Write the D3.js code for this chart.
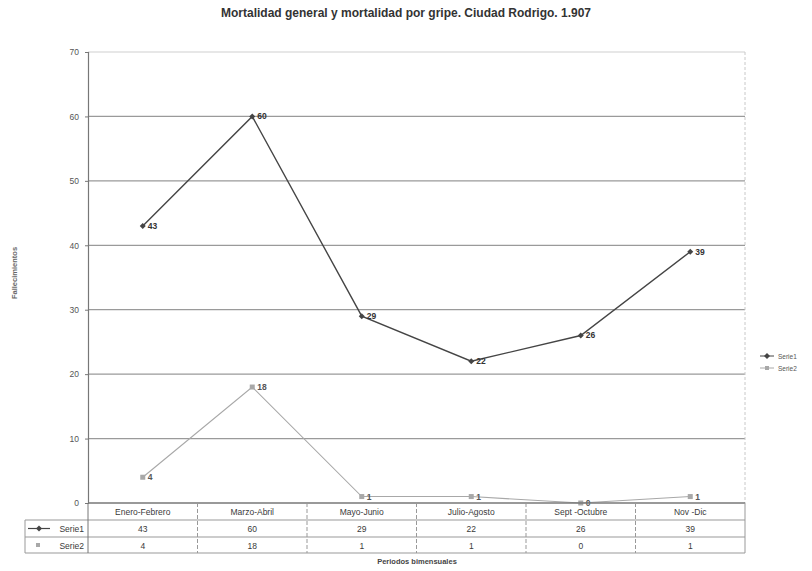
<!DOCTYPE html>
<html><head><meta charset="utf-8">
<script src="https://cdn.jsdelivr.net/npm/d3@7"></script>
<style>
html,body{margin:0;padding:0;background:#fff;}
text{font-family:"Liberation Sans",Arial,sans-serif;}
</style></head>
<body><svg id="c" width="812" height="571"></svg>
<script>
const categories = ["Enero-Febrero","Marzo-Abril","Mayo-Junio","Julio-Agosto","Sept -Octubre","Nov -Dic"];
const serie1 = [43, 60, 29, 22, 26, 39];
const serie2 = [4, 18, 1, 1, 0, 1];
const seriesNames = ["Serie1", "Serie2"];
const yTicks = [0, 10, 20, 30, 40, 50, 60, 70];
const title = "Mortalidad general y mortalidad por gripe. Ciudad Rodrigo. 1.907";
const yTitle = "Fallecimientos";
const xTitle = "Periodos bimensuales";

const svg = d3.select("#c");
const L = 88, R = 745, T = 52, B = 503;
const x = d3.scaleBand().domain(categories).range([L, R]);
const y = d3.scaleLinear().domain([0, 70]).range([B, T]);
const c1 = "#454545", c2 = "#a8a8a8";
const diamond = "M0,-3L3,0L0,3L-3,0Z";

// title
svg.append("text").attr("x", 406).attr("y", 17).attr("text-anchor", "middle")
  .attr("font-size", 12).attr("font-weight", "bold").attr("fill", "#333").text(title);

// gridlines
svg.append("g").selectAll("line").data(yTicks.filter(d => d > 0)).join("line")
  .attr("x1", L).attr("x2", R).attr("y1", d => y(d)).attr("y2", d => y(d))
  .attr("stroke", d => d === 70 ? "#cfcfcf" : "#9a9a9a").attr("stroke-width", d => d === 70 ? 1 : 1.3);
// right border
svg.append("line").attr("x1", R).attr("x2", R).attr("y1", T).attr("y2", B)
  .attr("stroke", "#c8c8c8").attr("stroke-dasharray", "3,2");

// y axis
const ya = svg.append("g").attr("transform", `translate(${L},0)`)
  .call(d3.axisLeft(y).tickValues(yTicks).tickSize(3).tickPadding(6));
ya.select(".domain").attr("stroke", "#777").attr("stroke-width", 1.2);
ya.selectAll(".tick line").attr("stroke", "#777");
ya.selectAll("text").attr("font-size", 8.5).attr("fill", "#555").attr("font-family", "Liberation Sans, Arial, sans-serif");

// y title
svg.append("text").attr("transform", "translate(17,273) rotate(-90)").attr("text-anchor", "middle")
  .attr("font-size", 7.5).attr("font-weight", "bold").attr("fill", "#666").text(yTitle);

// lines
const cx = d => x(d) + x.bandwidth() / 2;
const line = d3.line().x((d, i) => cx(categories[i])).y(d => y(d));
svg.append("path").datum(serie2).attr("d", line).attr("fill", "none").attr("stroke", c2).attr("stroke-width", 1.1);
svg.append("path").datum(serie1).attr("d", line).attr("fill", "none").attr("stroke", c1).attr("stroke-width", 1.4);

// markers
svg.append("g").selectAll("rect").data(serie2).join("rect")
  .attr("x", (d, i) => cx(categories[i]) - 2.5).attr("y", d => y(d) - 2.5)
  .attr("width", 5).attr("height", 5).attr("fill", c2);
svg.append("g").selectAll("path").data(serie1).join("path")
  .attr("d", diamond)
  .attr("transform", (d, i) => `translate(${cx(categories[i])},${y(d)})`).attr("fill", c1);

// data labels
svg.append("g").selectAll("text").data(serie1).join("text")
  .attr("x", (d, i) => cx(categories[i]) + 5).attr("y", d => y(d) + 3)
  .attr("font-size", 8.5).attr("font-weight", "bold").attr("fill", "#333").text(d => d);
svg.append("g").selectAll("text").data(serie2).join("text")
  .attr("x", (d, i) => cx(categories[i]) + 5).attr("y", d => y(d) + 3)
  .attr("font-size", 8.5).attr("font-weight", "bold").attr("fill", "#555").text(d => d);

// data table
const rowTop = [503, 520, 537], rowBot = 553, keyL = 25;
const tg = svg.append("g").attr("stroke", "#999").attr("stroke-width", 1);
tg.append("line").attr("x1", L).attr("x2", R).attr("y1", B).attr("y2", B).attr("stroke", "#777").attr("stroke-width", 1.4);
tg.append("line").attr("x1", keyL).attr("x2", R).attr("y1", rowTop[1]).attr("y2", rowTop[1]);
tg.append("line").attr("x1", keyL).attr("x2", R).attr("y1", rowTop[2]).attr("y2", rowTop[2]);
tg.append("line").attr("x1", keyL).attr("x2", R).attr("y1", rowBot).attr("y2", rowBot);
tg.append("line").attr("x1", keyL).attr("x2", keyL).attr("y1", rowTop[1]).attr("y2", rowBot);
tg.append("line").attr("x1", L).attr("x2", L).attr("y1", B).attr("y2", rowBot).attr("stroke", "#777");
tg.selectAll("line.sep").data(categories).join("line").attr("class", "sep")
  .attr("x1", d => x(d) + x.bandwidth()).attr("x2", d => x(d) + x.bandwidth())
  .attr("y1", B).attr("y2", rowBot).attr("stroke-dasharray", d => d === categories[categories.length - 1] ? null : "4,2");

const tt = svg.append("g").attr("font-size", 8.5).attr("fill", "#3a3a3a").attr("text-anchor", "middle");
tt.selectAll("text.cat").data(categories).join("text").attr("class", "cat")
  .attr("x", d => cx(d)).attr("y", 515).text(d => d);
tt.selectAll("text.s1").data(serie1).join("text").attr("class", "s1")
  .attr("x", (d, i) => cx(categories[i])).attr("y", 532).text(d => d);
tt.selectAll("text.s2").data(serie2).join("text").attr("class", "s2")
  .attr("x", (d, i) => cx(categories[i])).attr("y", 549).text(d => d);

// table keys
svg.append("line").attr("x1", 28).attr("x2", 50).attr("y1", 528.5).attr("y2", 528.5).attr("stroke", c1).attr("stroke-width", 1.2);
svg.append("path").attr("d", diamond).attr("transform", "translate(39,528.5)").attr("fill", c1);
svg.append("rect").attr("x", 36).attr("y", 543).attr("width", 4).attr("height", 4).attr("fill", c2);
svg.append("text").attr("x", 84).attr("y", 532).attr("text-anchor", "end").attr("font-size", 8.5).attr("fill", "#3a3a3a").text(seriesNames[0]);
svg.append("text").attr("x", 84).attr("y", 549).attr("text-anchor", "end").attr("font-size", 8.5).attr("fill", "#3a3a3a").text(seriesNames[1]);

// x title
svg.append("text").attr("x", 417).attr("y", 564).attr("text-anchor", "middle")
  .attr("font-size", 7.5).attr("font-weight", "bold").attr("fill", "#444").text(xTitle);

// legend
const lg = svg.append("g").attr("transform", "translate(760,356)");
lg.append("line").attr("x1", 0).attr("x2", 14).attr("y1", 0).attr("y2", 0).attr("stroke", c1);
lg.append("path").attr("d", diamond).attr("transform", "translate(7,0)").attr("fill", c1);
lg.append("text").attr("x", 18).attr("y", 2.5).attr("font-size", 6.5).attr("fill", "#555").text(seriesNames[0]);
lg.append("line").attr("x1", 0).attr("x2", 14).attr("y1", 12).attr("y2", 12).attr("stroke", c2);
lg.append("rect").attr("x", 5).attr("y", 10).attr("width", 4).attr("height", 4).attr("fill", c2);
lg.append("text").attr("x", 18).attr("y", 14.5).attr("font-size", 6.5).attr("fill", "#555").text(seriesNames[1]);
</script></body></html>
